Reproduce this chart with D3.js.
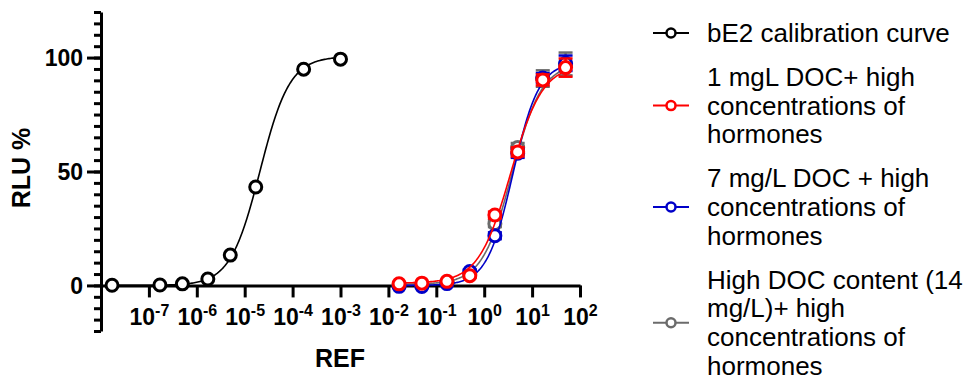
<!DOCTYPE html>
<html>
<head>
<meta charset="utf-8">
<style>
  body { margin: 0; background: #fff; }
  svg { display: block; font-family: "Liberation Sans", Arial, sans-serif; }
  .axis path, .axis line { stroke: #000; stroke-width: 3; }
</style>
</head>
<body>
<svg width="972" height="382"></svg>
<script src="https://cdn.jsdelivr.net/npm/d3@7"></script>
<script>

// calibration curve (bE2)
var calDose = [1.7e-8, 1.7e-7, 5e-7, 1.7e-6, 5e-6, 1.7e-5, 1.7e-4, 1e-3];
var calRLU  = [0.1, 0.2, 0.7, 2.8, 13.3, 43.2, 94.9, 99.3];

// samples with DOC + hormones
var sampleDose = [0.0167, 0.05, 0.167, 0.5, 1.67, 5, 16.7, 50];
var redRLU   = [0.7, 1.0, 1.8, 4.3, 30.9, 58.6, 90.2, 95.6];
var redSD    = [0.4, 0.4, 0.5, 0.8, 1.5, 2.0, 2.4, 4.0];
var blueRLU  = [-0.4, -0.5, 0.8, 6.1, 21.8, 58.0, 91.0, 97.5];
var blueSD   = [0.4, 0.4, 0.5, 0.8, 1.5, 2.0, 2.2, 3.4];
var grayRLU  = [0.2, 0.3, 1.3, 5.0, 27.1, 60.5, 90.8, 97.2];
var graySD   = [0.4, 0.4, 0.5, 0.8, 1.5, 2.0, 3.6, 5.0];

// fitted sigmoid parameters: [bottom, top, logEC50, hill]
var calFit  = [0, 100.5, -4.68, 1.4];
var redFit  = [1, 97, 0.55, 1.3];
var blueFit = [0, 98, 0.6, 1.6];
var grayFit = [0.5, 97.5, 0.58, 1.4];

var xDecades = [1e-7, 1e-6, 1e-5, 1e-4, 1e-3, 1e-2, 1e-1, 1e0, 1e1, 1e2];
var yMajor = [0, 50, 100];

var legendLabels = [
  ["bE2 calibration curve"],
  ["1 mgL DOC+ high", "concentrations of", "hormones"],
  ["7 mg/L DOC + high", "concentrations of", "hormones"],
  ["High DOC content (14", "mg/L)+ high", "concentrations of", "hormones"]
];
var legendColors = ["#000", "#ff0000", "#0000c8", "#6b6b6b"];

var svg = d3.select("svg");

var x = d3.scaleLog().domain([1e-8, 1e2]).range([101, 580]);
var y = d3.scaleLinear().domain([-20, 120]).range([331, 12]);

/* y axis: minor ticks every 5, major with labels */
svg.append("g")
    .attr("class", "axis")
    .attr("transform", "translate(" + x.range()[0] + ",0)")
    .call(d3.axisLeft(y).tickValues(d3.range(-20, 121, 5)).tickSize(7).tickSizeOuter(0).tickFormat(""));

var yAx = svg.append("g")
    .attr("class", "axis")
    .attr("transform", "translate(" + x.range()[0] + ",0)")
    .call(d3.axisLeft(y).tickValues(yMajor).tickSize(14).tickSizeOuter(0).tickPadding(4));
yAx.select(".domain").remove();
yAx.selectAll(".tick text")
    .attr("font-size", 23)
    .attr("font-weight", "bold")
    .attr("font-family", "Liberation Sans, Arial, sans-serif")
    .attr("dy", "0.36em");

/* x axis at y = 0 */
var xAx = svg.append("g")
    .attr("class", "axis")
    .attr("transform", "translate(0," + y(0) + ")")
    .call(d3.axisBottom(x).tickValues(xDecades).tickSize(12).tickSizeOuter(0).tickFormat(""));

xAx.selectAll(".tick text")
    .attr("y", 40)
    .attr("dy", null)
    .attr("font-size", 23)
    .attr("font-weight", "bold")
    .attr("font-family", "Liberation Sans, Arial, sans-serif")
    .attr("fill", "#000")
    .each(function(d) {
      var t = d3.select(this);
      t.append("tspan").text("10");
      t.append("tspan").attr("font-size", 16).attr("dy", -9).text(Math.round(Math.log10(d)));
    });

/* axis titles */
svg.append("text")
    .attr("transform", "translate(30,168) rotate(-90)")
    .attr("text-anchor", "middle")
    .attr("font-size", 25)
    .attr("font-weight", "bold")
    .text("RLU %");

svg.append("text")
    .attr("x", 340)
    .attr("y", 367)
    .attr("text-anchor", "middle")
    .attr("font-size", 25)
    .attr("font-weight", "bold")
    .text("REF");

/* series */
function sigmoid(p, lx) {
  return p[0] + (p[1] - p[0]) / (1 + Math.pow(10, (p[2] - lx) * p[3]));
}

function drawSeries(dose, rlu, sd, fit, color) {
  var g = svg.append("g");
  var lo = Math.log10(d3.min(dose)), hi = Math.log10(d3.max(dose));
  var pts = d3.range(0, 201).map(function(i) {
    var lx = lo + (hi - lo) * i / 200;
    return [Math.pow(10, lx), sigmoid(fit, lx)];
  });
  g.append("path")
      .datum(pts)
      .attr("fill", "none")
      .attr("stroke", color)
      .attr("stroke-width", 1.6)
      .attr("d", d3.line().x(function(d) { return x(d[0]); }).y(function(d) { return y(d[1]); }));

  var data = dose.map(function(d, i) { return {x: d, y: rlu[i], sd: sd ? sd[i] : 0}; });

  var eb = g.selectAll(".err").data(data.filter(function(d) { return d.sd > 0; }))
    .enter().append("g")
      .attr("stroke", color)
      .attr("stroke-width", 2.5);
  eb.append("line")
      .attr("x1", function(d) { return x(d.x); })
      .attr("x2", function(d) { return x(d.x); })
      .attr("y1", function(d) { return y(d.y - d.sd); })
      .attr("y2", function(d) { return y(d.y + d.sd); });
  eb.append("line")
      .attr("x1", function(d) { return x(d.x) - 7; })
      .attr("x2", function(d) { return x(d.x) + 7; })
      .attr("y1", function(d) { return y(d.y + d.sd); })
      .attr("y2", function(d) { return y(d.y + d.sd); });
  eb.append("line")
      .attr("x1", function(d) { return x(d.x) - 7; })
      .attr("x2", function(d) { return x(d.x) + 7; })
      .attr("y1", function(d) { return y(d.y - d.sd); })
      .attr("y2", function(d) { return y(d.y - d.sd); });

  g.selectAll("circle").data(data)
    .enter().append("circle")
      .attr("cx", function(d) { return x(d.x); })
      .attr("cy", function(d) { return y(d.y); })
      .attr("r", 6)
      .attr("fill", "#fff")
      .attr("stroke", color)
      .attr("stroke-width", 3);
}

drawSeries(calDose, calRLU, null, calFit, legendColors[0]);
drawSeries(sampleDose, grayRLU, graySD, grayFit, legendColors[3]);
drawSeries(sampleDose, blueRLU, blueSD, blueFit, legendColors[2]);
drawSeries(sampleDose, redRLU, redSD, redFit, legendColors[1]);

/* legend */
var lineH = 28.8, blockGap = 15, cy = 33;
var legend = svg.append("g").attr("font-size", 26).attr("fill", "#000");
legendLabels.forEach(function(lines, i) {
  var mid = cy + (lines.length - 1) * lineH / 2;
  var item = legend.append("g");
  item.append("line")
      .attr("x1", 653).attr("x2", 689)
      .attr("y1", mid).attr("y2", mid)
      .attr("stroke", legendColors[i]).attr("stroke-width", 2);
  item.append("circle")
      .attr("cx", 671).attr("cy", mid).attr("r", 4.5)
      .attr("fill", "#fff")
      .attr("stroke", legendColors[i]).attr("stroke-width", 2.5);
  var t = item.append("text").attr("x", 707).attr("y", cy + 9);
  lines.forEach(function(s, j) {
    t.append("tspan").attr("x", 707).attr("dy", j === 0 ? 0 : lineH).text(s);
  });
  cy += lines.length * lineH + blockGap;
});

</script>
</body>
</html>
